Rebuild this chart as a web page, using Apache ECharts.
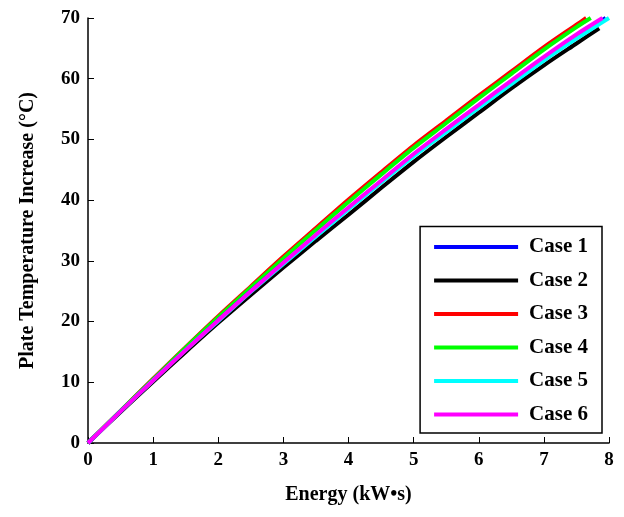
<!DOCTYPE html><html><head><meta charset="utf-8"><script src="https://cdn.jsdelivr.net/npm/echarts@6/dist/echarts.min.js"></script>
<style>body{margin:0}#c{width:624px;height:517px}</style></head><body><div id="c"></div><script>
const xs=[0,0.5,1,1.5,2,2.5,3,3.5,4,4.5,5,5.5,6,6.5,7,7.5];
const case1=[0,5.2,10.3,15.3,20.2,25.0,29.6,34.1,38.6,43.0,47.4,51.4,55.4,59.4,63.3,67.0];
const case2=[0,5.1,10.1,15.0,19.8,24.4,28.9,33.3,37.6,42.0,46.3,50.4,54.4,58.4,62.2,65.8];
const case3=[0,5.3,10.6,15.8,20.9,25.8,30.7,35.4,40.1,44.6,49.0,53.1,57.2,61.2,65.2,68.9];
const case4=[0,5.3,10.5,15.7,20.7,25.6,30.4,35.1,39.7,44.2,48.6,52.7,56.8,60.8,64.8,68.5];
const case5=[0,5.2,10.3,15.3,20.1,24.9,29.5,34.0,38.5,42.9,47.2,51.2,55.2,59.1,63.0,66.6];
const case6=[0,5.2,10.3,15.3,20.2,25.0,29.7,34.3,38.8,43.2,47.6,51.7,55.7,59.7,63.6,67.3];
const ends=[[7.95,70],[7.85,68.3],[7.65,70],[7.72,70],[8,70],[7.9,70]];
const names=['Case 1','Case 2','Case 3','Case 4','Case 5','Case 6'];
const colors=['#0000ff','#000000','#ff0000','#00ff00','#00ffff','#ff00ff'];
const data=[case1,case2,case3,case4,case5,case6];
const order=[2,3,0,1,4,5];
const series=order.map(i=>({name:names[i],type:'line',showSymbol:false,smooth:0.3,z:i==5?10:2,
 lineStyle:{width:4,color:colors[i]},itemStyle:{color:colors[i]},
 data:xs.map((x,j)=>[x,data[i][j]]).concat([ends[i]])}));
const f='"Liberation Serif", serif';
echarts.init(document.getElementById('c')).setOption({animation:false,
 grid:{left:88,right:15,top:18,bottom:74},
 legend:{data:names.map((n,i)=>({name:n,itemStyle:{color:colors[i]}})),orient:'vertical',right:22,bottom:84,itemWidth:84,itemHeight:4,itemGap:12.5,
  backgroundColor:'#fff',borderColor:'#000',borderWidth:1.5,padding:[10,14,8,14],textStyle:{fontFamily:f,fontSize:21,fontWeight:'bold',color:'#000',padding:[0,0,0,6]},icon:'rect'},
 xAxis:{type:'value',min:0,max:8,interval:1,name:'Energy (kW•s)',nameLocation:'middle',nameGap:42,
  nameTextStyle:{fontFamily:f,fontSize:20,fontWeight:'bold',color:'#000'},
  axisLine:{lineStyle:{color:'#000',width:1.5}},axisTick:{inside:true,length:6,lineStyle:{color:'#000'}},
  axisLabel:{fontFamily:f,fontSize:19,fontWeight:'bold',color:'#000'},splitLine:{show:false}},
 yAxis:{type:'value',min:0,max:70,interval:10,name:'Plate Temperature Increase (°C)',nameLocation:'middle',nameGap:50,
  nameTextStyle:{fontFamily:f,fontSize:20,fontWeight:'bold',color:'#000'},
  axisLine:{lineStyle:{color:'#000',width:1.5}},axisTick:{inside:true,length:6,lineStyle:{color:'#000'}},
  axisLabel:{fontFamily:f,fontSize:19,fontWeight:'bold',color:'#000'},splitLine:{show:false}},
 series:series
});
</script></body></html>
